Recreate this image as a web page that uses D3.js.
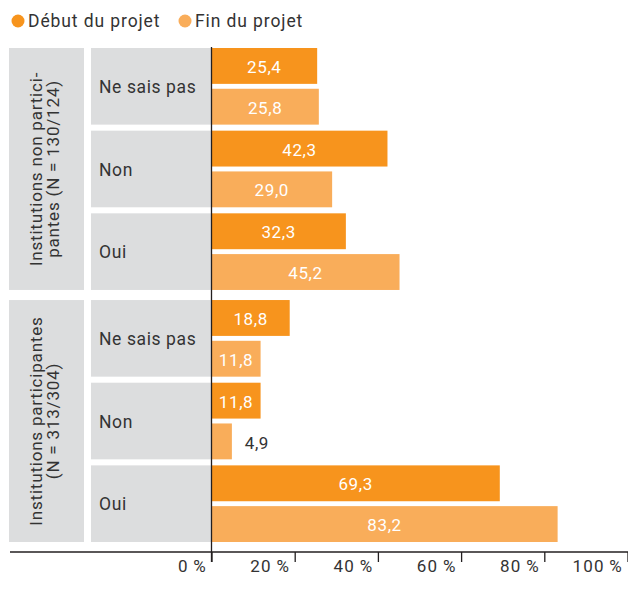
<!DOCTYPE html>
<html>
<head>
<meta charset="utf-8">
<script src="https://cdn.jsdelivr.net/npm/d3@7"></script>
<style>
  body { margin: 0; background: #fff; }
  text { font-family: Roboto, "Noto Sans", sans-serif; fill: #333; }
  .value { fill: #fff; }
</style>
</head>
<body>
<div id="chart"></div>
<script>
// data
const groups = ["Institutions non partici-|pantes (N = 130/124)", "Institutions participantes|(N = 313/304)"];
const categories = ["Ne sais pas", "Non", "Oui"];
const series = ["Début du projet", "Fin du projet"];
const debutValues = [25.4, 42.3, 32.3, 18.8, 11.8, 69.3];
const finValues = [25.8, 29.0, 45.2, 11.8, 4.9, 83.2];
const tickValues = [0, 20, 40, 60, 80, 100];

const colors = ["#f7941d", "#f9ad5a"];
const width = 628, height = 614;

const svg = d3.select("#chart")
    .append("svg")
        .attr("width", width)
        .attr("height", height);

// flat table built from arrays
const rows = [];
groups.forEach(function(g, gi) {
    categories.forEach(function(c, ci) {
        rows.push({group: g, category: c, debut: debutValues[gi * 3 + ci], fin: finValues[gi * 3 + ci]});
    });
});

// scales
const xScale = d3.scaleLinear().domain([0, 100]).range([211.5, 627.5]);
const groupScale = d3.scaleBand().domain(groups).range([48, 542]).paddingInner(0.04);
const catScale = d3.scaleBand().domain(categories).range([0, groupScale.bandwidth()]).paddingInner(0.073);
const serScale = d3.scaleBand().domain(series).range([0, catScale.bandwidth()]).paddingInner(0.12);

// legend
const legend = svg.append("g").attr("transform", "translate(18, 21)");
const legX = [0, 167];
series.forEach(function(s, i) {
    const lg = legend.append("g").attr("transform", `translate(${legX[i]}, 0)`);
    lg.append("circle").attr("r", 6.5).attr("fill", colors[i]);
    lg.append("text")
        .attr("x", 10)
        .attr("y", 6)
        .style("font-size", "17.5px")
        .style("letter-spacing", "0.9px")
        .text(s);
});

// group panels
const groupG = svg.selectAll(".group")
    .data(groups)
    .enter()
    .append("g")
        .attr("class", "group")
        .attr("transform", function(d) { return `translate(0, ${groupScale(d)})`; });

groupG.append("rect")
    .attr("x", 9)
    .attr("width", 75)
    .attr("height", groupScale.bandwidth())
    .attr("fill", "#dcddde");

groupG.append("text")
    .attr("transform", `translate(46.5, ${groupScale.bandwidth() / 2}) rotate(-90)`)
    .attr("text-anchor", "middle")
    .style("font-size", "17px")
    .style("letter-spacing", "0.8px")
    .selectAll("tspan")
    .data(function(d) { return d.split("|"); })
    .enter()
    .append("tspan")
        .attr("x", 0)
        .attr("y", function(d, i) { return i === 0 ? -4.5 : 12.5; })
        .text(function(d) { return d; });

// category rows
const rowG = svg.selectAll(".row")
    .data(rows)
    .enter()
    .append("g")
        .attr("class", "row")
        .attr("transform", function(d) { return `translate(0, ${groupScale(d.group) + catScale(d.category)})`; });

rowG.append("rect")
    .attr("x", 91)
    .attr("width", 120)
    .attr("height", catScale.bandwidth())
    .attr("fill", "#dcddde");

rowG.append("text")
    .attr("x", 99)
    .attr("y", catScale.bandwidth() / 2)
    .attr("dy", "0.38em")
    .style("font-size", "17.5px")
    .style("letter-spacing", "0.6px")
    .text(function(d) { return d.category; });

// bars
const barData = function(d) {
    return [{s: series[0], v: d.debut, i: 0}, {s: series[1], v: d.fin, i: 1}];
};

rowG.selectAll(".bar")
    .data(barData)
    .enter()
    .append("rect")
        .attr("class", "bar")
        .attr("x", xScale(0))
        .attr("y", function(d) { return serScale(d.s); })
        .attr("width", function(d) { return xScale(d.v) - xScale(0); })
        .attr("height", serScale.bandwidth())
        .attr("fill", function(d) { return colors[d.i]; });

rowG.selectAll(".value")
    .data(barData)
    .enter()
    .append("text")
        .attr("class", function(d) { return xScale(d.v) - xScale(0) > 35 ? "value" : "value-out"; })
        .attr("x", function(d) {
            const w = xScale(d.v) - xScale(0);
            return w > 35 ? xScale(0) + w / 2 : xScale(d.v) + 25;
        })
        .attr("y", function(d) { return serScale(d.s) + serScale.bandwidth() / 2; })
        .attr("dy", "0.42em")
        .attr("text-anchor", "middle")
        .style("font-size", "17px")
        .style("letter-spacing", "0.6px")
        .text(function(d) { return d3.format(".1f")(d.v).replace(".", ","); });

// x axis
const axisY = 552;
svg.append("line")
    .attr("x1", 10).attr("x2", width)
    .attr("y1", axisY).attr("y2", axisY)
    .attr("stroke", "#231f20")
    .attr("stroke-width", 1.3);

svg.append("line")
    .attr("x1", xScale(0)).attr("x2", xScale(0))
    .attr("y1", 47).attr("y2", axisY + 10)
    .attr("stroke", "#231f20")
    .attr("stroke-width", 1.3);

const xAxis = svg.append("g")
    .attr("transform", `translate(0, ${axisY})`)
    .call(d3.axisBottom(xScale).tickValues(tickValues).tickSize(10).tickFormat(function(d) { return d + "\u2009%"; }))
    .call(function(g) { return g.select(".domain").remove(); });

xAxis.selectAll(".tick line")
    .attr("stroke", "#231f20")
    .attr("stroke-width", 1.3);

xAxis.selectAll(".tick text")
    .attr("x", -5)
    .attr("y", 20)
    .attr("dy", 0)
    .attr("text-anchor", "end")
    .style("font-family", "Roboto, sans-serif")
    .style("font-size", "17px")
    .style("letter-spacing", "1.2px")
    .style("fill", "#333");
</script>
</body>
</html>
